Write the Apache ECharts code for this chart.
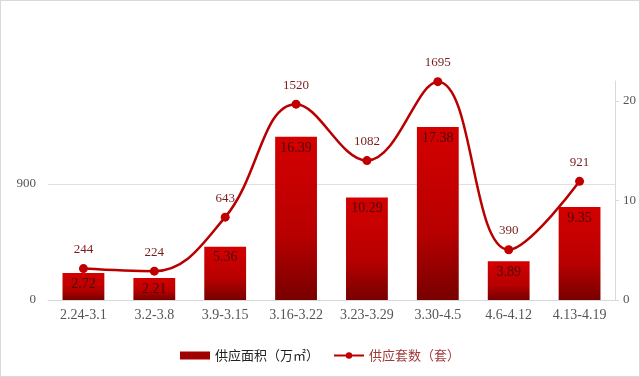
<!DOCTYPE html>
<html>
<head>
<meta charset="utf-8">
<script src="https://cdn.jsdelivr.net/npm/echarts@6/dist/echarts.min.js"></script>
<style>
    html, body {
        margin: 0;
        padding: 0;
        background: #fff;
    }
    #chart {
        width: 638px;
        height: 375px;
        border: 1px solid #d9d9d9;
    }
</style>
</head>
<body>
<div id="chart"></div>
<script>
    // 周期
    var weeks = ['2.24-3.1', '3.2-3.8', '3.9-3.15', '3.16-3.22', '3.23-3.29', '3.30-4.5', '4.6-4.12', '4.13-4.19'];
    // 供应面积（万㎡）
    var areaData = [2.72, 2.21, 5.36, 16.39, 10.29, 17.38, 3.89, 9.35];
    // 供应套数（套）
    var countData = [244, 224, 643, 1520, 1082, 1695, 390, 921];

    var serif = "'Liberation Serif', 'DejaVu Serif', 'Noto Sans CJK SC', serif";
    var cjk = "'Noto Sans CJK SC', sans-serif";

    var chart = echarts.init(document.getElementById('chart'));
    var theOptions = {
        animation: false,
        grid: {
            left: 47,
            right: 24,
            top: 80,
            bottom: 76
        },
        legend: {
            bottom: 9,
            left: 'center',
            itemGap: 14,
            textStyle: {
                fontFamily: cjk,
                fontSize: 13,
                color: '#222'
            },
            data: [
                {name: '供应面积（万㎡）', icon: 'rect', itemStyle: {color: '#a00000'}},
                {name: '供应套数（套）', textStyle: {color: '#a23a3a'}}
            ],
            itemWidth: 30,
            itemHeight: 8
        },
        xAxis: {
            type: 'category',
            data: weeks,
            axisLine: {lineStyle: {color: '#d9d9d9'}},
            axisTick: {show: false},
            axisLabel: {
                color: '#555',
                fontFamily: serif,
                fontSize: 14,
                margin: 8
            }
        },
        yAxis: [
            {
                // 左轴：套数
                type: 'value',
                min: 0,
                max: 1700,
                interval: 900,
                axisLine: {show: false},
                axisTick: {show: false},
                axisLabel: {
                    showMaxLabel: false,
                    color: '#555',
                    fontFamily: serif,
                    fontSize: 13,
                    margin: 12
                },
                splitLine: {
                    showMaxLine: false,
                    lineStyle: {color: '#e0e0e0'}
                }
            },
            {
                // 右轴：面积
                type: 'value',
                min: 0,
                max: 22,
                interval: 10,
                axisLine: {show: true, lineStyle: {color: '#d9d9d9'}},
                axisTick: {show: true, length: 4, lineStyle: {color: '#d9d9d9'}},
                axisLabel: {
                    showMaxLabel: false,
                    color: '#555',
                    fontFamily: serif,
                    fontSize: 13,
                    margin: 8
                },
                splitLine: {show: false}
            }
        ],
        series: [
            {
                name: '供应面积（万㎡）',
                type: 'bar',
                yAxisIndex: 1,
                barWidth: '59%',
                data: areaData,
                itemStyle: {
                    color: new echarts.graphic.LinearGradient(0, 0, 0, 1, [
                        {offset: 0, color: '#d40000'},
                        {offset: 0.6, color: '#b80000'},
                        {offset: 1, color: '#780000'}
                    ])
                },
                label: {
                    show: true,
                    position: 'insideTop',
                    distance: 4,
                    color: '#4a0808',
                    fontFamily: serif,
                    fontSize: 14
                }
            },
            {
                name: '供应套数（套）',
                type: 'line',
                yAxisIndex: 0,
                smooth: 0.4,
                data: countData,
                symbol: 'circle',
                symbolSize: 9,
                lineStyle: {color: '#b80000', width: 2.5},
                itemStyle: {color: '#c00000'},
                label: {
                    show: true,
                    position: 'top',
                    distance: 8,
                    color: '#7a1c1c',
                    fontFamily: serif,
                    fontSize: 13
                }
            }
        ]
    };
    chart.setOption(theOptions);
</script>
</body>
</html>
